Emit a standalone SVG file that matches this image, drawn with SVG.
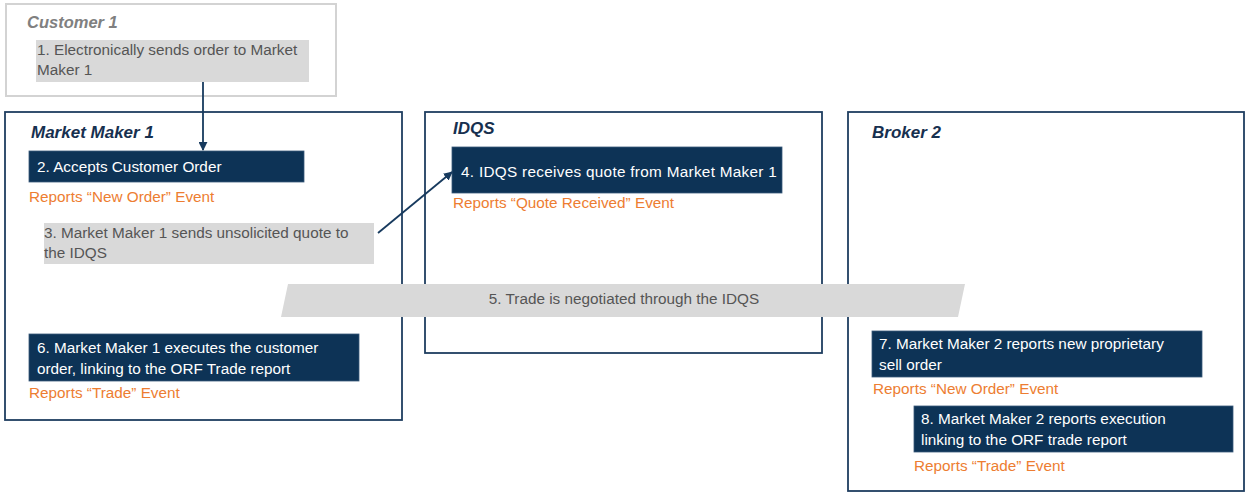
<svg xmlns="http://www.w3.org/2000/svg" width="1249" height="493" viewBox="0 0 1249 493">
<defs>
<style>
text{font-family:"Liberation Sans",Arial,sans-serif;font-size:15.3px}
.frame{fill:#fff;stroke:#1f3e60;stroke-width:1.8}
.cframe{fill:#fff;stroke:#d3d3d3;stroke-width:2}
.title{font-weight:bold;font-style:italic;font-size:17px;fill:#17304f}
.ctitle{font-weight:bold;font-style:italic;font-size:16.5px;fill:#808080}
.dark{fill:#0d3356;stroke:#3a5a7a;stroke-width:0.8}
.gray{fill:#d9d9d9}
.wt{fill:#fff}
.gt{fill:#555}
.ot{fill:#ed7d31}
.conn{stroke:#173a5e;stroke-width:1.8;fill:none}
</style>
<marker id="ah" viewBox="0 0 10 10" refX="9" refY="5" markerWidth="5" markerHeight="5" orient="auto">
<path d="M0,0 L10,5 L0,10 z" fill="#173a5e"/>
</marker>
</defs>
<g id="customer1">
<rect class="cframe" x="6" y="4" width="330" height="92"/>
<text class="ctitle" x="27" y="28">Customer 1</text>
<rect class="gray" x="36" y="40" width="273" height="42"/>
<text class="gt" x="37" y="55">1. Electronically sends order to Market</text>
<text class="gt" x="37" y="75">Maker 1</text>
</g>
<g id="marketmaker1">
<rect class="frame" x="5" y="112" width="397" height="308"/>
<text class="title" x="31" y="138">Market Maker 1</text>
</g>
<g id="idqs">
<rect class="frame" x="425" y="112" width="397" height="241"/>
<text class="title" x="453" y="134">IDQS</text>
</g>
<g id="broker2">
<rect class="frame" x="848" y="112" width="396" height="379"/>
<text class="title" x="872" y="138">Broker 2</text>
</g>
<g id="step2">
<rect class="dark" x="29" y="151" width="275" height="31"/>
<text class="wt" x="37" y="172">2. Accepts Customer Order</text>
<text class="ot" x="29" y="202">Reports “New Order” Event</text>
</g>
<g id="step3">
<rect class="gray" x="44" y="223" width="330" height="41"/>
<text class="gt" x="44" y="238">3. Market Maker 1 sends unsolicited quote to</text>
<text class="gt" x="44" y="258">the IDQS</text>
</g>
<g id="step4">
<rect class="dark" x="452" y="147" width="330" height="46"/>
<text class="wt" x="461" y="177" letter-spacing="0.3">4. IDQS receives quote from Market Maker 1</text>
<text class="ot" x="453" y="208">Reports “Quote Received” Event</text>
</g>
<g id="step5">
<polygon class="gray" points="288,284 965,284 958,317 281,317"/>
<text class="gt" x="624" y="304" text-anchor="middle">5. Trade is negotiated through the IDQS</text>
</g>
<g id="step6">
<rect class="dark" x="29" y="334" width="330" height="47"/>
<text class="wt" x="37" y="353">6. Market Maker 1 executes the customer</text>
<text class="wt" x="37" y="374">order, linking to the ORF Trade report</text>
<text class="ot" x="29" y="398">Reports “Trade” Event</text>
</g>
<g id="step7">
<rect class="dark" x="872" y="331" width="330" height="46"/>
<text class="wt" x="879" y="349">7. Market Maker 2 reports new proprietary</text>
<text class="wt" x="879" y="370">sell order</text>
<text class="ot" x="873" y="394">Reports “New Order” Event</text>
</g>
<g id="step8">
<rect class="dark" x="914" y="406" width="319" height="46"/>
<text class="wt" x="921" y="424">8. Market Maker 2 reports execution</text>
<text class="wt" x="921" y="445">linking to the ORF trade report</text>
<text class="ot" x="914" y="471">Reports “Trade” Event</text>
</g>
<g id="connectors">
<line class="conn" x1="203" y1="82" x2="203" y2="150" marker-end="url(#ah)"/>
<line class="conn" x1="378" y1="233" x2="452" y2="172" marker-end="url(#ah)"/>
</g>
</svg>
